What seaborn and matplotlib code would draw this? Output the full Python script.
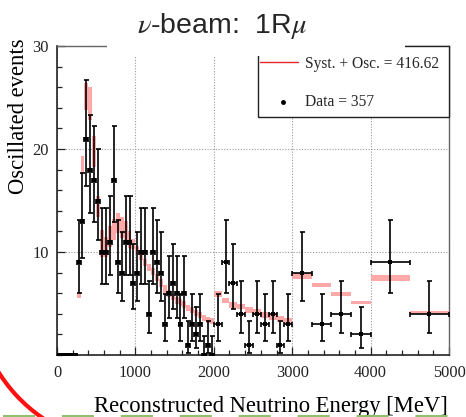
import numpy as np
import pandas as pd
import matplotlib
matplotlib.use("Agg")
import matplotlib.pyplot as plt
import seaborn as sns
from matplotlib.patches import Rectangle, Arc
from matplotlib.lines import Line2D

# ---------------- data ----------------
bin_edges = [0, 50, 100, 150, 200, 250, 300, 350, 400, 450, 500, 550, 600, 650, 700,
             750, 800, 850, 900, 950, 1000, 1050, 1100, 1150, 1200, 1250, 1300, 1350,
             1400, 1450, 1500, 1550, 1600, 1650, 1700, 1750, 1800, 1850, 1900, 1950,
             2000, 2100, 2200, 2300, 2400, 2500, 2600, 2700, 2800, 2900, 3000,
             3250, 3500, 3750, 4000, 4500, 5000]

data_counts = [0, 0, 0, 0, 0,
               9, 13, 21, 18, 17, 15, 10, 10, 11, 17, 9, 8, 11, 11, 7,
               8, 10, 10, 4, 10, 9, 8, 3, 6, 7, 6, 3, 6, 1, 3, 2, 3, 0, 1, 0,
               3, 9, 7, 4, 1, 4, 3, 4, 1, 3,
               8, 3, 4, 2, 9, 4]

data_lower = [0, 0, 0, 0, 0,
              6.06, 9.44, 16.45, 13.80, 12.92, 11.17, 6.89, 6.89, 7.74, 12.92, 6.06, 5.23, 7.74, 7.74, 4.42,
              5.23, 6.89, 6.89, 2.09, 6.89, 6.06, 5.23, 1.37, 3.62, 4.42, 3.62, 1.37, 3.62, 0.17, 1.37, 0.71, 1.37, 0, 0.17, 0,
              1.37, 6.06, 4.42, 2.09, 0.17, 2.09, 1.37, 2.09, 0.17, 1.37,
              5.23, 1.37, 2.09, 0.71, 6.06, 2.09]

data_upper = [0, 0, 0, 0, 0,
              13.11, 17.70, 26.66, 23.32, 22.20, 19.96, 14.27, 14.27, 15.42, 22.20, 13.11, 11.95, 15.42, 15.42, 10.77,
              11.95, 14.27, 14.27, 7.16, 14.27, 13.11, 11.95, 5.92, 9.58, 10.77, 9.58, 5.92, 9.58, 3.30, 5.92, 4.64, 5.92, 1.84, 3.30, 1.84,
              5.92, 13.11, 10.77, 7.16, 3.30, 7.16, 5.92, 7.16, 3.30, 5.92,
              11.95, 5.92, 7.16, 4.64, 13.11, 7.16]

mc_center = [0, 0, 0, 0, 0,
             5.8, 18.5, 25.1, 24.4, 19.8, 14.4, 10.8, 10.5, 11.5, 12.2, 12.8, 12.4, 12.1, 11.2, 10.8,
             10.2, 9.6, 9.0, 8.5, 8.1, 7.5, 7.0, 6.4, 6.0, 5.6, 5.3, 5.1, 4.9, 4.6, 4.4, 4.1, 3.9, 3.6, 3.4, 3.3,
             5.9, 5.3, 4.85, 4.7, 4.4, 4.2, 3.9, 3.7, 3.5, 3.3,
             7.65, 6.8, 5.9, 5.1, 7.5, 4.15]

mc_spread = [0, 0, 0, 0, 0,
             0.3, 0.8, 1.3, 1.6, 1.5, 1.0, 1.3, 1.0, 1.0, 1.0, 1.0, 1.0, 0.9, 0.8, 0.5,
             0.4, 0.35, 0.35, 0.35, 0.35, 0.35, 0.35, 0.35, 0.35, 0.3, 0.3, 0.3, 0.3, 0.3, 0.3, 0.3, 0.3, 0.3, 0.3, 0.3,
             0.28, 0.28, 0.28, 0.28, 0.28, 0.28, 0.28, 0.28, 0.28, 0.28,
             0.28, 0.2, 0.18, 0.16, 0.3, 0.16]

legend_labels = ["Syst. + Osc. = 416.62", "Data = 357"]
x_ticks = [0, 1000, 2000, 3000, 4000, 5000]
y_ticks = [10, 20, 30]

# ---------------- frame ----------------
W, H = 466, 417
def fx(px):
    return px / W
def fy(py):
    return 1 - py / H

edges = np.array(bin_edges, dtype=float)
lefts = edges[:-1]
widths = np.diff(edges)
centers = lefts + widths / 2

df = pd.DataFrame({
    "left": lefts, "width": widths, "center": centers,
    "count": data_counts, "lower": data_lower, "upper": data_upper,
    "mc": mc_center, "spread": mc_spread,
})

sns.set_theme(style="ticks")
plt.rcParams["font.family"] = ["Liberation Serif", "DejaVu Serif"]
plt.rcParams["mathtext.fontset"] = "stix"

fig = plt.figure(figsize=(W / 100, H / 100), dpi=100)
fig.patch.set_facecolor("white")
ax = fig.add_axes([fx(57), fy(355), fx(449) - fx(57), fy(46) - fy(355)])
ax.set_facecolor("white")

# prediction band
mc = df[df["mc"] > 0]
ax.bar(mc["left"], 2 * mc["spread"], bottom=mc["mc"] - mc["spread"],
       width=mc["width"], align="edge", color="#ffa8a8", linewidth=0, zorder=2)

# data with errors
has_err = df["upper"] > 0
ax.errorbar(df["center"], df["count"], xerr=df["width"] / 2,
            yerr=[np.where(has_err, df["count"] - df["lower"], 0),
                  np.where(has_err, df["upper"] - df["count"], 0)],
            fmt="none", ecolor="black", elinewidth=1.2, capsize=1.8, capthick=1.2, zorder=3)
sns.scatterplot(data=df, x="center", y="count", ax=ax, color="black", marker="s",
                s=9, linewidth=0, zorder=4, legend=False)

ax.set_xlim(0, 5000)
ax.set_ylim(0, 30)
ax.set_xticks(x_ticks)
ax.set_xticks(np.arange(0, 5001, 200), minor=True)
ax.set_yticks(y_ticks)
ax.set_yticks(np.arange(0, 31, 2), minor=True)
ax.set_xticklabels([str(v) for v in x_ticks])
ax.set_yticklabels([str(v) for v in y_ticks])
ax.tick_params(which="both", direction="in", top=False, right=False,
               labelsize=11.8, colors="#222222", width=0.9)
ax.tick_params(which="major", length=6)
ax.tick_params(which="minor", length=3.5)
ax.tick_params(axis="x", pad=7)
ax.tick_params(axis="y", pad=6)
ax.set_xlabel("")
ax.set_ylabel("")
ax.grid(True, which="major", color="#9a9a9a", linestyle=(0, (1, 1.5)), linewidth=0.8)
ax.set_axisbelow(True)
for side in ["left", "bottom"]:
    ax.spines[side].set_color("#222222")
    ax.spines[side].set_linewidth(1.2)
for side in ["top", "right"]:
    ax.spines[side].set_color("#666666")
    ax.spines[side].set_linewidth(1.0)

# axis titles
fig.text(fx(448), fy(412), "Reconstructed Neutrino Energy [MeV]", ha="right", va="baseline",
         fontsize=16.3, color="black")
fig.text(fx(19), fy(38), "Oscillated events", rotation=90, ha="center", va="top",
         fontsize=16.3, color="black")

# legend box
fig.add_artist(Rectangle((fx(258), fy(117)), fx(449) - fx(258), fy(46) - fy(117),
                         transform=fig.transFigure, facecolor="white", edgecolor="#222222",
                         linewidth=1.0, zorder=4))
fig.add_artist(Line2D([fx(260), fx(298)], [fy(62), fy(62)], transform=fig.transFigure,
                      color="#e8262a", linewidth=1.0, zorder=5))
fig.add_artist(Line2D([fx(283)], [fy(102)], transform=fig.transFigure, marker="o",
                      markersize=2.5, color="black", linestyle="none", zorder=5))
fig.text(fx(305), fy(64), legend_labels[0], ha="left", va="center", fontsize=11.2, zorder=5)
fig.text(fx(305), fy(102), legend_labels[1], ha="left", va="center", fontsize=11.2, zorder=5)

# title box (covers part of frame as in the slide)
fig.add_artist(Rectangle((fx(107), fy(56)), fx(405) - fx(107), fy(0) - fy(56),
                         transform=fig.transFigure, facecolor="white", edgecolor="none", zorder=6))
fig.text(fx(222), fy(33), r"$\nu$-beam:  1R$\mu$", ha="center", va="baseline",
         fontsize=20.5, family=["Liberation Sans", "DejaVu Sans"], zorder=7)

# slide decorations
fig.add_artist(Arc((fx(130), fy(290)), 2 * 155 / W, 2 * 155 / H, theta1=200, theta2=250,
                   transform=fig.transFigure, color="#ff1010", linewidth=3.0, zorder=8))
fig.add_artist(Line2D([fx(3), fx(466)], [fy(416), fy(416)], transform=fig.transFigure,
                      color="#8cc06a", linewidth=1.4, linestyle=(0, (16.5, 13.8)), zorder=8))

fig.savefig("out.png", dpi=100)
